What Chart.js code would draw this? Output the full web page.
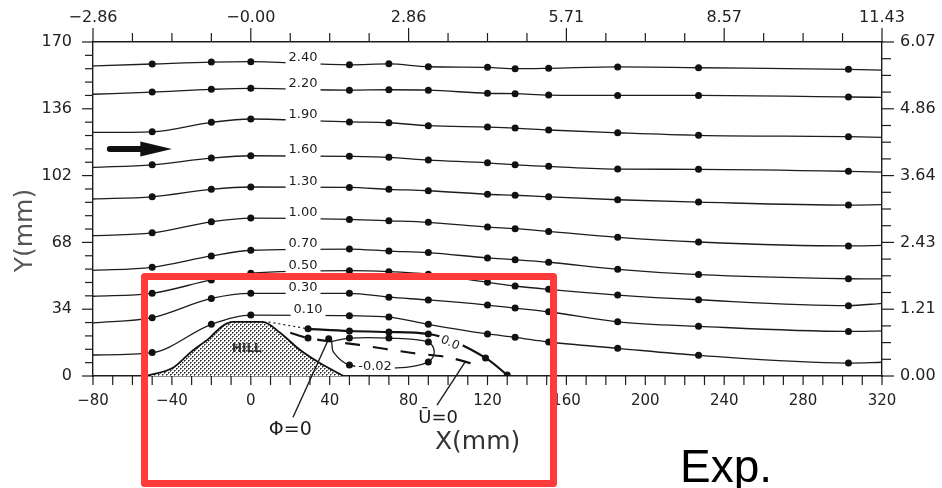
<!DOCTYPE html>
<html lang="en">
<head>
<meta charset="UTF-8">
<title>Streamlines over a hill - Exp.</title>
<style>
    body {
        margin: 0;
        background: #fff;
    }
    #wrap {
        width: 942px;
        height: 488px;
    }
    canvas {
        display: block;
    }
</style>
<script src="https://cdn.jsdelivr.net/npm/chart.js"></script>
</head>
<body>
<div id="wrap"><canvas id="chart" width="942" height="488"></canvas></div>
<script>
    // measuring stations X (mm); first and last are where the lines meet the frame
    const stationX = [-80, -50, -20, 0, 50, 70, 90, 120, 134, 151, 186, 227, 303, 320];

    // streamline height Y (mm) at each station
    const psi240 = [157.8, 158.8, 159.8, 160.0, 158.4, 158.9, 157.4, 157.1, 156.4, 156.6, 157.3, 156.9, 156.1, 155.7];
    const psi220 = [143.4, 144.5, 145.9, 146.4, 145.5, 145.7, 145.5, 143.9, 143.7, 143.0, 142.8, 142.8, 142.0, 141.8];
    const psi190 = [124.0, 124.3, 129.1, 130.8, 129.3, 128.9, 127.4, 126.7, 126.2, 125.2, 123.8, 122.5, 121.8, 121.5];
    const psi160 = [106.2, 107.5, 110.9, 112.1, 111.8, 111.3, 109.9, 108.5, 107.5, 106.7, 105.3, 105.2, 104.2, 103.8];
    const psi130 = [90.1, 91.2, 95.0, 96.2, 96.0, 95.0, 94.3, 92.5, 92.0, 91.2, 89.7, 88.5, 87.0, 87.2];
    const psi100 = [71.4, 72.9, 78.5, 80.4, 79.7, 79.0, 78.2, 75.8, 75.0, 73.6, 70.6, 68.2, 66.2, 66.5];
    const psi070 = [53.8, 55.3, 61.1, 64.0, 64.6, 63.6, 62.8, 60.1, 59.2, 57.9, 54.3, 51.6, 49.5, 49.4];
    const psi050 = [40.6, 42.1, 48.9, 52.3, 53.6, 53.1, 51.8, 47.7, 45.8, 44.1, 41.2, 38.8, 35.8, 37.0];
    const psi030 = [27.0, 29.7, 39.5, 42.1, 42.1, 40.1, 38.7, 36.1, 34.6, 32.7, 27.6, 25.3, 22.7, 23.0];
    const psi010 = [10.7, 11.9, 26.3, 31.0, 30.7, 30.0, 26.3, 21.4, 19.7, 17.3, 14.1, 10.5, 6.6, 7.0];
    const streamLabels = ['2.40', '2.20', '1.90', '1.60', '1.30', '1.00', '0.70', '0.50', '0.30', '0.10'];

    // separated region behind the hill
    const zeroLeadX = [9, 29];
    const zeroLeadY = [27.5, 24.0];
    const zeroX = [29, 50, 70, 90, 119, 130];
    const zeroY = [24.0, 22.9, 22.4, 21.4, 9.2, 0.5];
    const loopX = [41, 50, 70, 90, 93, 90, 74, 50, 42, 41];
    const loopY = [17.5, 19.3, 19.3, 17.3, 12.2, 7.1, 4.1, 5.6, 12.0, 17.5];
    const uZeroX = [20, 29, 55, 82, 99, 113];
    const uZeroY = [22.0, 19.3, 15.8, 11.7, 9.7, 6.1];
    const phiLeaderX = [21.4, 39.5];
    const phiLeaderY = [-21.0, 19.0];
    const uLeaderX = [94.4, 108.6];
    const uLeaderY = [-14.8, 7.1];

    // hill profile
    const hillX = [-53, -39, -30, -21, -15, -9, 6, 15, 25, 35, 47];
    const hillY = [0, 4.5, 12.5, 19.3, 25.0, 27.5, 27.5, 21.9, 13.2, 6.6, 0];

    // tick labels
    const xTickVals = [-80, -40, 0, 40, 80, 120, 160, 200, 240, 280, 320];
    const xTickLabels = ['−80', '−40', '0', '40', '80', '120', '160', '200', '240', '280', '320'];
    const topTickVals = [-80, 0, 80, 160, 240, 320];
    const topTickLabels = ['−2.86', '−0.00', '2.86', '5.71', '8.57', '11.43'];
    const yTickVals = [0, 34, 68, 102, 136, 170];
    const yTickLabels = ['0', '34', '68', '102', '136', '170'];
    const rightTickLabels = ['0.00', '1.21', '2.43', '3.64', '4.86', '6.07'];

    const INK = '#1d1d1d';
    const DOT = 3.5;
    const pts = (xs, ys) => xs.map((x, i) => ({ x: x, y: ys[i] }));
    const range = (a, b, st) => Array.from({ length: Math.round((b - a) / st) + 1 }, (_, i) => a + i * st);
    const pick = (v, vals, labels) => {
        const i = vals.findIndex(t => Math.abs(t - v) < 1e-6);
        return i < 0 ? '' : labels[i];
    };

    // stippled fill for the hill
    function stipple() {
        const c = document.createElement('canvas');
        c.width = 4;
        c.height = 4;
        const g = c.getContext('2d');
        g.fillStyle = '#fff';
        g.fillRect(0, 0, 4, 4);
        g.fillStyle = '#2a2a2a';
        g.fillRect(0, 0, 1, 1);
        g.fillRect(2, 2, 1, 1);
        g.fillStyle = '#777';
        g.fillRect(1, 0, 1, 1);
        g.fillRect(0, 1, 1, 1);
        g.fillRect(3, 2, 1, 1);
        g.fillRect(2, 3, 1, 1);
        return g.createPattern(c, 'repeat');
    }

    const datasets = [];
    [psi240, psi220, psi190, psi160, psi130, psi100, psi070, psi050, psi030, psi010].forEach((ys, k) => {
        datasets.push({
            label: streamLabels[k],
            data: pts(stationX, ys),
            borderColor: INK,
            borderWidth: 1.3,
            cubicInterpolationMode: 'monotone',
            pointRadius: c => (c.dataIndex === 0 || c.dataIndex === stationX.length - 1) ? 0 : DOT,
            pointBackgroundColor: '#111',
            pointBorderWidth: 0
        });
    });
    datasets.push({
        label: 'zero-lead',
        data: pts(zeroLeadX, zeroLeadY),
        borderColor: INK,
        borderWidth: 1.2,
        borderDash: [2, 3],
        pointRadius: 0
    });
    datasets.push({
        label: '0.0',
        data: pts(zeroX, zeroY),
        borderColor: '#111',
        borderWidth: 2.2,
        cubicInterpolationMode: 'monotone',
        pointRadius: DOT,
        pointBackgroundColor: '#111',
        pointBorderWidth: 0
    });
    datasets.push({
        label: '-0.02',
        data: pts(loopX, loopY),
        borderColor: INK,
        borderWidth: 1.3,
        tension: 0.35,
        pointRadius: c => [1, 2, 3, 5, 7].includes(c.dataIndex) ? DOT : 0,
        pointBackgroundColor: '#111',
        pointBorderWidth: 0
    });
    datasets.push({
        label: 'U=0',
        data: pts(uZeroX, uZeroY),
        borderColor: '#111',
        borderWidth: 2.2,
        borderDash: [15, 13],
        tension: 0.3,
        pointRadius: c => c.dataIndex === 1 ? DOT : 0,
        pointBackgroundColor: '#111',
        pointBorderWidth: 0
    });
    datasets.push({
        label: 'phi-leader',
        data: pts(phiLeaderX, phiLeaderY),
        borderColor: INK,
        borderWidth: 1.4,
        clip: false,
        pointRadius: c => c.dataIndex === 1 ? DOT : 0,
        pointBackgroundColor: '#111',
        pointBorderWidth: 0
    });
    datasets.push({
        label: 'u-leader',
        data: pts(uLeaderX, uLeaderY),
        borderColor: INK,
        borderWidth: 1.4,
        clip: false,
        pointRadius: 0
    });
    datasets.push({
        label: 'hill',
        data: pts(hillX, hillY),
        borderColor: '#111',
        borderWidth: 1.8,
        cubicInterpolationMode: 'monotone',
        fill: 'origin',
        backgroundColor: stipple(),
        pointRadius: 0
    });

    // y pixel of a drawn line at pixel x, searching segments from index `from`
    function lineYAt(meta, px, from) {
        const p = meta.data;
        for (let i = from; i < p.length - 1; i++) {
            const a = p[i], b = p[i + 1];
            if ((px - a.x) * (px - b.x) <= 0 && a.x !== b.x) {
                return a.y + (b.y - a.y) * (px - a.x) / (b.x - a.x);
            }
        }
        return p[from].y;
    }

    const overlay = {
        id: 'overlay',
        afterDraw(chart) {
            const ctx = chart.ctx;
            const sx = chart.scales.x, sy = chart.scales.y;
            const X = v => sx.getPixelForValue(v);
            const Y = v => sy.getPixelForValue(v);
            ctx.save();

            // tick marks, longer at labelled values
            ctx.strokeStyle = INK;
            ctx.lineWidth = 1.2;
            const marks = (scale, majors, major, minor, side) => {
                scale.ticks.forEach(t => {
                    const len = majors.some(v => Math.abs(v - t.value) < 1e-6) ? major : minor;
                    const p = scale.getPixelForValue(t.value);
                    ctx.beginPath();
                    if (side === 'left') { ctx.moveTo(scale.right, p); ctx.lineTo(scale.right - len, p); }
                    if (side === 'right') { ctx.moveTo(scale.left, p); ctx.lineTo(scale.left + len, p); }
                    if (side === 'top') { ctx.moveTo(p, scale.bottom); ctx.lineTo(p, scale.bottom - len); }
                    if (side === 'bottom') { ctx.moveTo(p, scale.top); ctx.lineTo(p, scale.top + len); }
                    ctx.stroke();
                });
            };
            marks(chart.scales.x, xTickVals, 9, 9, 'bottom');
            marks(chart.scales.xTop, topTickVals, 14, 9, 'top');
            marks(chart.scales.y, yTickVals, 11, 8, 'left');
            marks(chart.scales.yRight, yTickVals, 12, 9, 'right');

            // value written into a gap of its line
            const tag = (text, px, ly, ty, angle, size) => {
                ctx.save();
                ctx.font = size + 'px "DejaVu Sans"';
                const w = ctx.measureText(text).width;
                ctx.translate(px, ly);
                ctx.rotate(angle);
                ctx.fillStyle = '#fff';
                const top = Math.min(ty - size * 0.6, -2.5);
                const bot = Math.max(ty + size * 0.5, 2.5);
                ctx.fillRect(-w / 2 - 3, top, w + 6, bot - top);
                ctx.fillStyle = INK;
                ctx.textAlign = 'center';
                ctx.textBaseline = 'middle';
                ctx.fillText(text, 0, ty);
                ctx.restore();
            };
            for (let k = 0; k < streamLabels.length; k++) {
                const meta = chart.getDatasetMeta(k);
                const lx = k === streamLabels.length - 1 ? 29 : 26.5;
                const px = X(lx);
                tag(streamLabels[k], px, lineYAt(meta, px, 0), -6, 0, 13);
            }
            const zi = datasets.findIndex(d => d.label === '0.0');
            const pz = X(101);
            tag('0.0', pz, lineYAt(chart.getDatasetMeta(zi), pz, 0), 0, 0.42, 12);
            const li = datasets.findIndex(d => d.label === '-0.02');
            const pl = X(63);
            tag('-0.02', pl, lineYAt(chart.getDatasetMeta(li), pl, 6), 0, 0, 13);

            // flow direction arrow
            const ay = Y(115.5), a0 = X(-73), a1 = X(-56), a2 = X(-40);
            ctx.fillStyle = '#111';
            ctx.beginPath();
            ctx.moveTo(a1, ay - 3);
            ctx.lineTo(a0 + 3, ay - 3);
            ctx.arc(a0 + 3, ay, 3, -Math.PI / 2, Math.PI / 2, true);
            ctx.lineTo(a1, ay + 3);
            ctx.lineTo(a1, ay + 7.5);
            ctx.lineTo(a2, ay);
            ctx.lineTo(a1, ay - 7.5);
            ctx.closePath();
            ctx.fill();

            // annotations
            ctx.fillStyle = '#333';
            ctx.textAlign = 'center';
            ctx.textBaseline = 'middle';
            ctx.font = 'bold 12px "DejaVu Sans"';
            ctx.fillText('HILL', X(-2), Y(13.7));
            ctx.fillStyle = INK;
            ctx.font = '19px "DejaVu Sans"';
            ctx.fillText('Φ=0', X(20), Y(-27.5));
            ctx.font = '18px "DejaVu Sans"';
            ctx.fillText('Ū=0', X(95), Y(-21.4));
            ctx.fillStyle = '#333';
            ctx.font = '25px "DejaVu Sans"';
            ctx.fillText('X(mm)', X(115), Y(-34));
            ctx.save();
            ctx.translate(25, Y(74));
            ctx.rotate(-Math.PI / 2);
            ctx.fillStyle = '#555';
            ctx.fillText('Y(mm)', 0, 0);
            ctx.restore();

            // highlight box
            ctx.strokeStyle = '#ff3b3b';
            ctx.lineWidth = 7;
            ctx.lineJoin = 'round';
            ctx.strokeRect(144.5, 276.5, 409, 207);

            ctx.fillStyle = '#000';
            ctx.textAlign = 'left';
            ctx.textBaseline = 'alphabetic';
            ctx.font = '46px "Liberation Sans"';
            ctx.fillText('Exp.', 680, 482);
            ctx.restore();
        }
    };

    const frame = { display: true, color: INK, width: 1.4 };
    const hidden = { drawOnChartArea: false, drawTicks: true, tickColor: 'rgba(0,0,0,0)' };

    Chart.defaults.font.family = '"DejaVu Sans"';
    Chart.defaults.color = '#222';

    new Chart(document.getElementById('chart'), {
        type: 'line',
        data: { datasets: datasets },
        options: {
            responsive: false,
            animation: false,
            layout: { padding: 0 },
            plugins: { legend: { display: false }, tooltip: { enabled: false } },
            scales: {
                x: {
                    type: 'linear', position: 'bottom', min: -80, max: 320,
                    afterBuildTicks: s => { s.ticks = range(-80, 320, 10).map(v => ({ value: v })); },
                    ticks: { autoSkip: false, maxRotation: 0, padding: 6, font: { size: 15 },
                        callback: v => pick(v, xTickVals, xTickLabels) },
                    grid: Object.assign({ tickLength: 10 }, hidden),
                    border: frame,
                    afterFit: s => { s.height = 112; }
                },
                xTop: {
                    type: 'linear', position: 'top', min: -80, max: 320,
                    afterBuildTicks: s => { s.ticks = range(-80, 320, 20).map(v => ({ value: v })); },
                    ticks: { autoSkip: false, maxRotation: 0, padding: 3, font: { size: 16 },
                        callback: v => pick(v, topTickVals, topTickLabels) },
                    grid: Object.assign({ tickLength: 12 }, hidden),
                    border: frame,
                    afterFit: s => { s.height = 42; }
                },
                y: {
                    type: 'linear', position: 'left', min: 0, max: 170,
                    afterBuildTicks: s => { s.ticks = range(0, 170, 6.8).map(v => ({ value: v })); },
                    ticks: { autoSkip: false, padding: 9, font: { size: 16 },
                        callback: v => pick(v, yTickVals, yTickLabels) },
                    grid: Object.assign({ tickLength: 12 }, hidden),
                    border: frame,
                    afterFit: s => { s.width = 93; }
                },
                yRight: {
                    type: 'linear', position: 'right', min: 0, max: 170,
                    afterBuildTicks: s => { s.ticks = range(0, 170, 8.5).map(v => ({ value: v })); },
                    ticks: { autoSkip: false, padding: 8, font: { size: 16 },
                        callback: v => pick(v, yTickVals, rightTickLabels) },
                    grid: Object.assign({ tickLength: 10 }, hidden),
                    border: frame,
                    afterFit: s => { s.width = 60; }
                }
            }
        },
        plugins: [overlay]
    });
</script>
</body>
</html>
